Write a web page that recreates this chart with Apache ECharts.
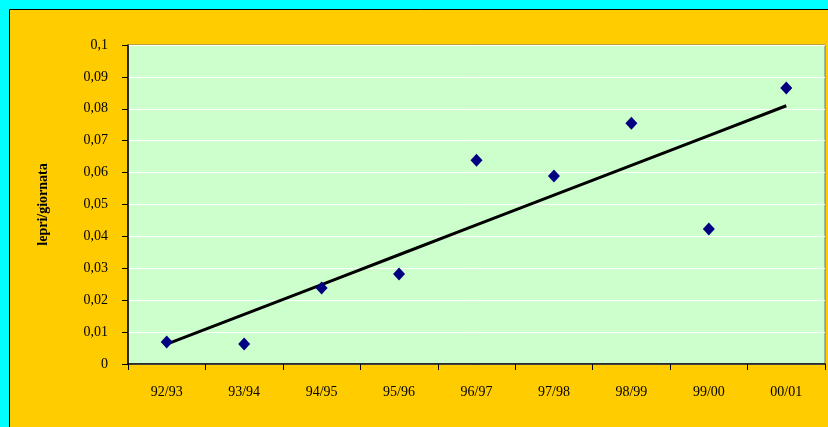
<!DOCTYPE html>
<html>
<head>
<meta charset="utf-8">
<script src="https://cdn.jsdelivr.net/npm/echarts@6/dist/echarts.min.js"></script>
<style>
  html, body { margin: 0; padding: 0; background: #00FFFF; }
  #chart { width: 828px; height: 427px; }
</style>
</head>
<body>
<div id="chart"></div>
<script>
// Seasons and hares counted per hunting day
const seasons = ['92/93', '93/94', '94/95', '95/96', '96/97', '97/98', '98/99', '99/00', '00/01'];
const lepriGiornata = [0.0069, 0.0063, 0.0238, 0.0282, 0.0639, 0.0589, 0.0755, 0.0423, 0.0865];
const yTicks = [0, 0.01, 0.02, 0.03, 0.04, 0.05, 0.06, 0.07, 0.08, 0.09, 0.1];

// Least-squares linear trend over season index (1..n)
function linearTrend(values) {
  const n = values.length;
  let sx = 0, sy = 0, sxy = 0, sxx = 0;
  values.forEach((v, i) => { const x = i + 1; sx += x; sy += v; sxy += x * v; sxx += x * x; });
  const slope = (n * sxy - sx * sy) / (n * sxx - sx * sx);
  const icpt = (sy - slope * sx) / n;
  return values.map((_, i) => +(icpt + slope * (i + 1)).toFixed(5));
}
const trend = linearTrend(lepriGiornata);

// Italian decimal comma
const fmt = v => String(+v.toFixed(2)).replace('.', ',');

const chart = echarts.init(document.getElementById('chart'), null, { renderer: 'canvas' });
chart.setOption({
  animation: false,
  backgroundColor: '#00FFFF',
  textStyle: { fontFamily: 'Liberation Serif' },
  graphic: [{
    type: 'rect', z: -10, silent: true,
    shape: { x: 9.5, y: 9.5, width: 840, height: 440 },
    style: { fill: '#FFCC00', stroke: '#000', lineWidth: 1 }
  }],
  grid: {
    left: 128, top: 45, right: 3, bottom: 63,
    show: true, backgroundColor: '#CCFFCC', borderColor: '#707070', borderWidth: 1
  },
  xAxis: {
    type: 'category',
    data: seasons,
    boundaryGap: true,
    axisLine: { lineStyle: { color: '#000', width: 1.5 } },
    axisTick: { show: true, inside: false, length: 6, alignWithLabel: false, lineStyle: { color: '#000' } },
    axisLabel: { color: '#000', fontSize: 14, margin: 21, fontFamily: 'Liberation Serif' },
    splitLine: { show: false }
  },
  yAxis: {
    type: 'value',
    min: 0, max: 0.1, interval: 0.01,
    name: 'lepri/giornata',
    nameLocation: 'middle',
    nameGap: 78,
    nameRotate: 90,
    nameTextStyle: { color: '#000', fontSize: 14, fontWeight: 'bold', fontFamily: 'Liberation Serif' },
    axisLine: { show: true, lineStyle: { color: '#000', width: 1.5 } },
    axisTick: { show: true, length: 6, lineStyle: { color: '#000' } },
    axisLabel: { color: '#000', fontSize: 14, margin: 20, fontFamily: 'Liberation Serif', formatter: v => fmt(v) },
    splitLine: { show: true, lineStyle: { color: '#FFFFFF', width: 1 } }
  },
  series: [
    {
      name: 'tendenza',
      type: 'line',
      data: trend,
      showSymbol: false,
      symbol: 'none',
      lineStyle: { color: '#000', width: 3 },
      z: 2
    },
    {
      name: 'lepri/giornata',
      type: 'scatter',
      data: lepriGiornata,
      symbol: 'diamond',
      symbolSize: [12, 13],
      itemStyle: { color: '#000080', opacity: 1 },
      z: 3
    }
  ]
});
</script>
</body>
</html>
